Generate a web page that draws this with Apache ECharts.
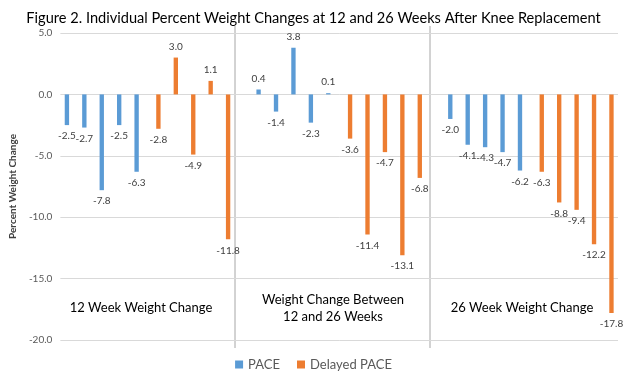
<!DOCTYPE html>
<html><head><meta charset="utf-8">
<script src="https://cdn.jsdelivr.net/npm/echarts@6/dist/echarts.min.js"></script>
<style>html,body{margin:0;padding:0;background:#fff}#c{width:627px;height:383px}</style>
</head><body><div id="c"></div>
<script>
// 32 category slots: 10 + blank + 10 + blank + 10
const categories = Array.from({length: 32}, () => '');
const paceValues = [
  -2.5, -2.7, -7.8, -2.5, -6.3, null, null, null, null, null, null,
  0.4, -1.4, 3.8, -2.3, 0.1, null, null, null, null, null, null,
  -2.0, -4.1, -4.3, -4.7, -6.2, null, null, null, null, null
];
const delayedValues = [
  null, null, null, null, null, -2.8, 3.0, -4.9, 1.1, -11.8, null,
  null, null, null, null, null, -3.6, -11.4, -4.7, -13.1, -6.8, null,
  null, null, null, null, null, -6.3, -8.8, -9.4, -12.2, -17.8
];
const groupLabels = ['12 Week Weight Change', 'Weight Change Between\n12 and 26 Weeks', '26 Week Weight Change'];
const yTicks = {min: -20, max: 5, interval: 5};

function toData(arr) {
  return arr.map(v => v === null ? null : {
    value: v,
    label: {position: v < 0 ? 'bottom' : 'top'}
  });
}
const labelStyle = {show: true, formatter: p => p.value.toFixed(1), color: '#404040', fontSize: 10, fontFamily: 'Lato', distance: 6};

const chart = echarts.init(document.getElementById('c'));
chart.setOption({
  animation: false,
  title: {
    text: 'Figure 2. Individual Percent Weight Changes at 12 and 26 Weeks After Knee Replacement',
    left: 'center', top: 6,
    textStyle: {fontFamily: 'Lato', fontSize: 14.6, fontWeight: 'normal', color: '#000'}
  },
  grid: {left: 55, right: 9, top: 33, bottom: 43},
  legend: {
    bottom: 7, left: 'center', itemWidth: 8, itemHeight: 8, icon: 'rect', itemGap: 17,
    textStyle: {fontFamily: 'Lato', fontSize: 13, color: '#595959'},
    data: ['PACE', 'Delayed PACE']
  },
  xAxis: {
    type: 'category', data: categories,
    axisLine: {show: false}, axisTick: {show: false}, axisLabel: {show: false}
  },
  yAxis: {
    type: 'value', min: yTicks.min, max: yTicks.max, interval: yTicks.interval,
    name: 'Percent Weight Change', nameLocation: 'middle', nameGap: 37,
    nameTextStyle: {fontFamily: 'Lato', fontSize: 10, fontWeight: 'bold', color: '#404040'},
    axisLabel: {formatter: v => v.toFixed(1), color: '#595959', fontSize: 10, fontFamily: 'Lato'},
    splitLine: {lineStyle: {color: '#d9d9d9'}}
  },
  series: [
    {name: 'PACE', type: 'bar', data: toData(paceValues), barWidth: '25%', barGap: '0%',
     itemStyle: {color: '#5B9BD5'}, label: labelStyle},
    {name: 'Delayed PACE', type: 'bar', data: toData(delayedValues), barWidth: '25%', barGap: '0%',
     itemStyle: {color: '#ED7D31'}, label: labelStyle}
  ],
  graphic: [
    {type: 'line', shape: {x1: 235, y1: 26, x2: 235, y2: 348}, style: {stroke: '#a6a6a6', lineWidth: 1}},
    {type: 'line', shape: {x1: 430, y1: 26, x2: 430, y2: 348}, style: {stroke: '#a6a6a6', lineWidth: 1}},
    {type: 'text', x: 141, y: 308, style: {text: groupLabels[0], align: 'center', verticalAlign: 'middle', font: '13px Lato', fill: '#000'}},
    {type: 'text', x: 333, y: 308, style: {text: groupLabels[1], align: 'center', verticalAlign: 'middle', font: '13px Lato', fill: '#000', lineHeight: 17}},
    {type: 'text', x: 522, y: 308, style: {text: groupLabels[2], align: 'center', verticalAlign: 'middle', font: '13px Lato', fill: '#000'}}
  ]
});
</script></body></html>
